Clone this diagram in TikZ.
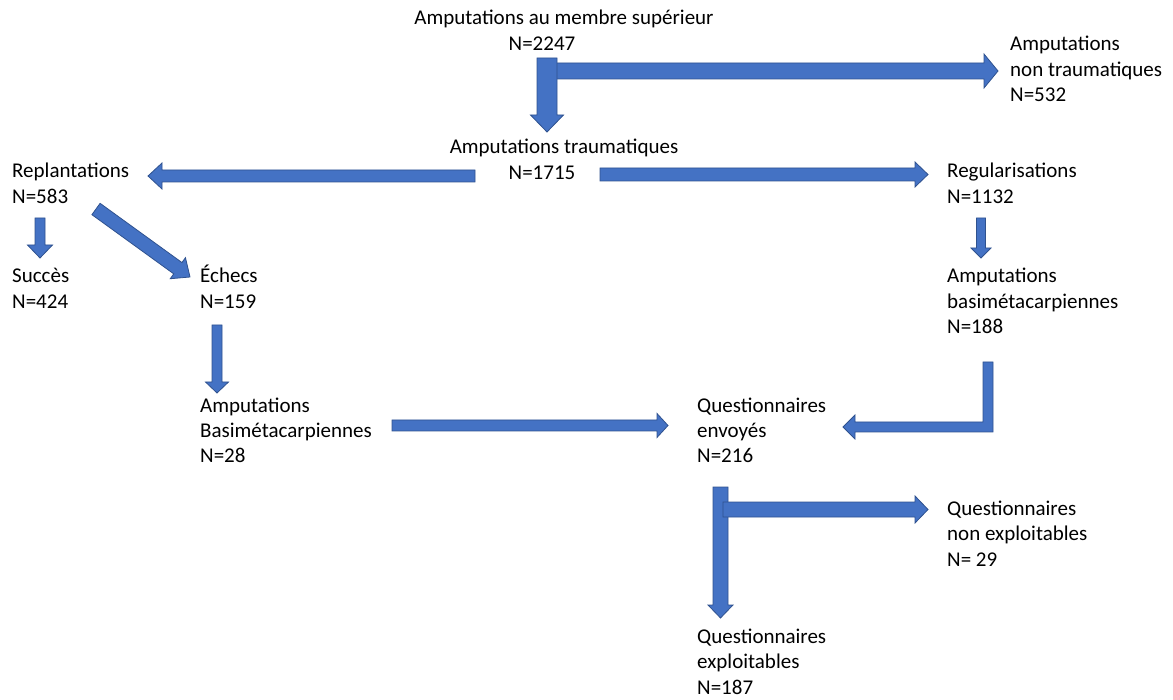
\documentclass[tikz,border=0pt]{standalone}
\usepackage{fontspec}
\setmainfont{Carlito}
\usetikzlibrary{calc}
\definecolor{arrowBlue}{HTML}{4472C4}
\definecolor{arrowEdge}{HTML}{2F528F}
% #1 start, #2 tip, #3 half shaft, #4 half head, #5 head length
\newcommand{\blockArrow}[5]{
  \coordinate (hb) at ($(#2)!#5!(#1)$);
  \filldraw[arrowbody] ($(#1)!#3!90:(#2)$) -- ($(hb)!#3!90:(#2)$) -- ($(hb)!#4!90:(#2)$)
    -- (#2) -- ($(hb)!#4!-90:(#2)$) -- ($(hb)!#3!-90:(#2)$) -- ($(#1)!#3!-90:(#2)$) -- cycle;
}
\tikzset{
  flowtext/.style={font=\fontsize{21}{25.5}\selectfont, align=left, inner sep=0pt, anchor=base west},
  arrowbody/.style={fill=arrowBlue, draw=arrowEdge, line width=0.8pt, line join=miter}
}

\begin{document}
\begin{tikzpicture}[x=1pt, y=-1pt]
  \useasboundingbox (0,0) rectangle (1173,700);
  % Nodes (placed at the baseline of their last line)
  \node[flowtext, align=center, anchor=base] (title) at (564,50.5) {Amputations au membre supérieur\\N=2247\rule{44pt}{0pt}};
  \node[flowtext] (nonTrauma) at (1010,102) {Amputations\\non traumatiques\\N=532};
  \node[flowtext, align=center, anchor=base] (trauma) at (564,179.5) {Amputations traumatiques\\N=1715\rule{44pt}{0pt}};
  \node[flowtext] (replant) at (12,203.5) {Replantations\\N=583};
  \node[flowtext] (regul) at (947,203.5) {Regularisations\\N=1132};
  \node[flowtext] (succes) at (12,308.5) {Succès\\N=424};
  \node[flowtext] (echecs) at (200,308.5) {Échecs\\N=159};
  \node[flowtext] (basiRight) at (947,334) {Amputations\\basimétacarpiennes\\N=188};
  \node[flowtext] (basiLeft) at (200,463) {Amputations\\Basimétacarpiennes\\N=28};
  \node[flowtext] (envoyes) at (697,463) {Questionnaires\\envoyés\\N=216};
  \node[flowtext] (nonExpl) at (947,566) {Questionnaires\\non exploitables\\N= 29};
  \node[flowtext] (expl) at (697,694) {Questionnaires\\exploitables\\N=187};

  % Arrow ends
  \coordinate (titleOut) at (547,58);
  \coordinate (titleSide) at (547,71);
  \coordinate (nonTraumaIn) at (998,71);
  \coordinate (traumaIn) at (547,132);
  \coordinate (traumaLeft) at (475,176);
  \coordinate (replantIn) at (148,176);
  \coordinate (traumaRight) at (600,174.5);
  \coordinate (regulIn) at (928,174.5);
  \coordinate (replantDown) at (40,218);
  \coordinate (succesIn) at (40,258);
  \coordinate (replantDiag) at (96,209);
  \coordinate (echecsIn) at (190,277);
  \coordinate (echecsOut) at (217,325);
  \coordinate (basiLeftIn) at (217,393);
  \coordinate (regulOut) at (981,218);
  \coordinate (basiRightIn) at (981,258);
  \coordinate (basiLeftOut) at (392,425.5);
  \coordinate (envoyesLeft) at (668,425.5);
  \coordinate (envoyesOut) at (720.5,487);
  \coordinate (envoyesSide) at (723,509.5);
  \coordinate (nonExplIn) at (928,509.5);
  \coordinate (explIn) at (720.5,618);

  % Arrows
  \blockArrow{titleSide}{nonTraumaIn}{8pt}{17pt}{14pt}
  \blockArrow{titleOut}{traumaIn}{10pt}{16.5pt}{17pt}
  \blockArrow{traumaLeft}{replantIn}{6pt}{13pt}{14pt}
  \blockArrow{traumaRight}{regulIn}{6.5pt}{12.5pt}{13pt}
  \blockArrow{replantDown}{succesIn}{5pt}{12.5pt}{13pt}
  \blockArrow{replantDiag}{echecsIn}{7pt}{13pt}{15pt}
  \blockArrow{echecsOut}{basiLeftIn}{5pt}{11.5pt}{11pt}
  \blockArrow{regulOut}{basiRightIn}{4.5pt}{10pt}{10pt}
  \blockArrow{basiLeftOut}{envoyesLeft}{5.5pt}{12pt}{11pt}
  % bent arrow from basiRight to envoyes
  \filldraw[arrowbody] (983,362) -- (993,362) -- (993,432) -- (855,432) -- (855,439)
    -- (843,427) -- (855,415) -- (855,422) -- (983,422) -- cycle;
  \blockArrow{envoyesOut}{explIn}{7.5pt}{12.5pt}{13pt}
  \blockArrow{envoyesSide}{nonExplIn}{7.5pt}{13.5pt}{13pt}
\end{tikzpicture}
\end{document}
